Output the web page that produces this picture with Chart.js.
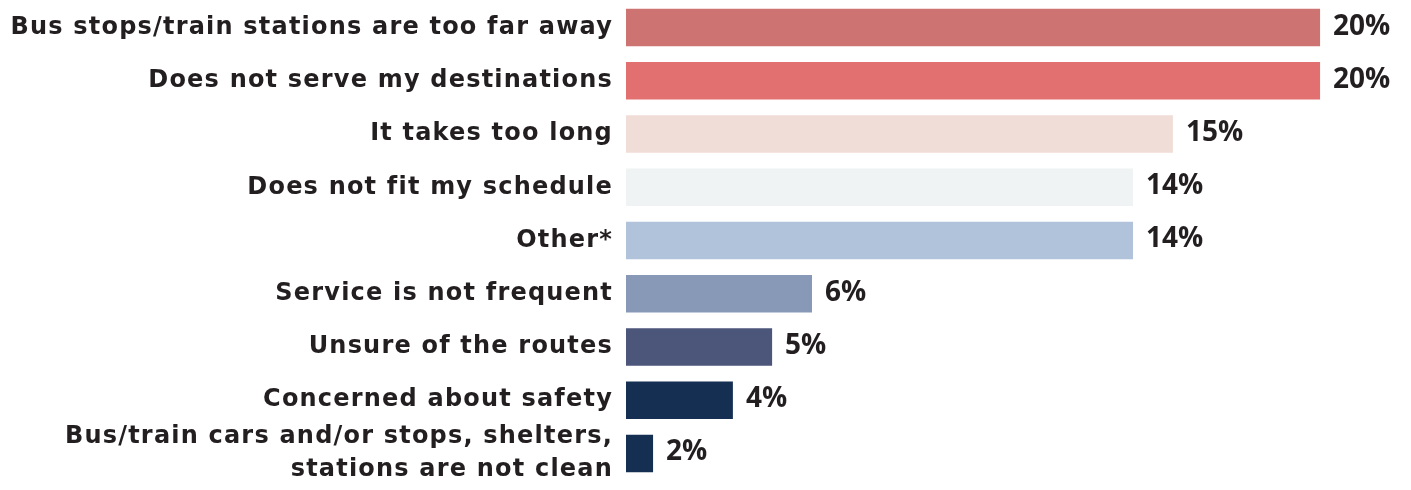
<!DOCTYPE html>
<html>
<head>
<meta charset="utf-8">
<script src="https://cdn.jsdelivr.net/npm/chart.js@4/dist/chart.umd.min.js"></script>
<style>
  html, body { margin: 0; padding: 0; background: #ffffff; }
  #wrap { width: 1411px; height: 490px; position: relative; }
</style>
</head>
<body>
<div id="wrap"><canvas id="c" width="1411" height="490"></canvas></div>
<script>
const categories = [
  "Bus stops/train stations are too far away",
  "Does not serve my destinations",
  "It takes too long",
  "Does not fit my schedule",
  "Other*",
  "Service is not frequent",
  "Unsure of the routes",
  "Concerned about safety",
  ["Bus/train cars and/or stops, shelters,", "stations are not clean"]
];
// bar lengths
const values = [20, 20, 15.76, 14.61, 14.61, 5.36, 4.21, 3.08, 0.78];
// labels printed at the bar ends
const valueLabels = ["20%", "20%", "15%", "14%", "14%", "6%", "5%", "4%", "2%"];
const barColors = ["#CD7472", "#E37070", "#F0DDD7", "#EFF3F4", "#B1C3DB", "#8899B7", "#4C557A", "#142F52", "#142F52"];

const spacingPlugin = {
  id: 'spacing',
  beforeDraw(chart) { chart.ctx.letterSpacing = '1.2px'; }
};

const valueLabelPlugin = {
  id: 'valueLabels',
  afterDatasetsDraw(chart) {
    const ctx = chart.ctx;
    const meta = chart.getDatasetMeta(0);
    ctx.save();
    ctx.letterSpacing = '0px';
    ctx.font = 'bold 28px "Open Sans"';
    ctx.fillStyle = '#231F20';
    ctx.textAlign = 'left';
    ctx.textBaseline = 'middle';
    meta.data.forEach((bar, i) => {
      ctx.fillText(valueLabels[i], bar.x + 13, bar.y - 1);
    });
    ctx.restore();
  }
};

function draw() {
  new Chart(document.getElementById('c'), {
    type: 'bar',
    data: {
      labels: categories,
      datasets: [{
        data: values,
        backgroundColor: barColors,
        borderWidth: 0,
        categoryPercentage: 1.0,
        barPercentage: 0.705
      }]
    },
    options: {
      indexAxis: 'y',
      responsive: false,
      animation: false,
      layout: { padding: { top: 1, bottom: 10, left: 0, right: 0 } },
      plugins: { legend: { display: false }, tooltip: { enabled: false } },
      scales: {
        x: { display: false, min: 0, max: 22.62 },
        y: {
          grid: { display: false, drawTicks: false },
          border: { display: false },
          ticks: {
            autoSkip: false,
            color: '#231F20',
            padding: 13,
            font: { family: '"DejaVu Sans"', weight: 'bold', size: 24, lineHeight: 1.38 }
          },
          afterFit(scale) {
            scale.width = 626;
            scale.paddingTop = 0;
            scale.paddingBottom = 0;
          }
        }
      }
    },
    plugins: [spacingPlugin, valueLabelPlugin]
  });
}

Promise.all([
  document.fonts.load('bold 28px "Open Sans"'),
  document.fonts.load('bold 24px "DejaVu Sans"')
]).then(draw, draw);
</script>
</body>
</html>
